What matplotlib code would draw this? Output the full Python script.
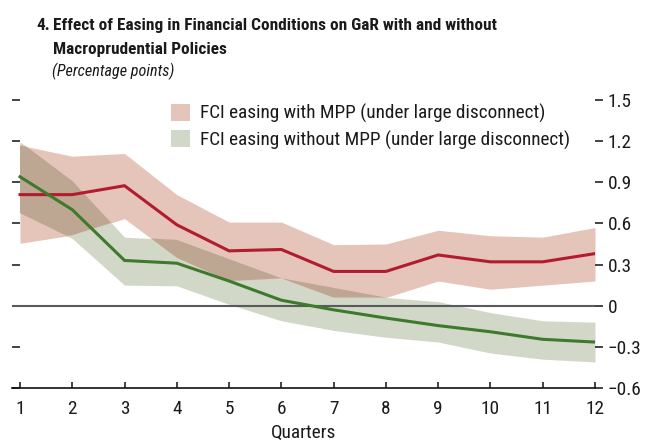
import numpy as np
import matplotlib
matplotlib.use("Agg")
import matplotlib.pyplot as plt
from matplotlib.patches import Patch
from matplotlib import font_manager as fm

quarters = list(range(1, 13))

# FCI easing with MPP (median and band)
with_mpp = [0.81, 0.81, 0.875, 0.59, 0.40, 0.41, 0.25, 0.25, 0.37, 0.32, 0.32, 0.38]
with_mpp_hi = [1.17, 1.09, 1.11, 0.81, 0.61, 0.61, 0.445, 0.45, 0.55, 0.51, 0.50, 0.57]
with_mpp_lo = [0.455, 0.515, 0.635, 0.35, 0.18, 0.20, 0.06, 0.06, 0.18, 0.12, 0.15, 0.18]

# FCI easing without MPP
without_mpp = [0.94, 0.70, 0.33, 0.31, 0.18, 0.04, -0.03, -0.09, -0.145, -0.19, -0.245, -0.265]
without_mpp_hi = [1.195, 0.91, 0.50, 0.48, 0.34, 0.20, 0.13, 0.06, 0.03, -0.05, -0.11, -0.12]
without_mpp_lo = [0.675, 0.49, 0.15, 0.145, 0.01, -0.11, -0.18, -0.23, -0.265, -0.345, -0.39, -0.41]

yticks = [-0.6, -0.3, 0, 0.3, 0.6, 0.9, 1.2, 1.5]
ytick_labels = ["\u22120.6", "\u22120.3", "0", "0.3", "0.6", "0.9", "1.2", "1.5"]
labels = ["FCI easing with MPP (under large disconnect)",
          "FCI easing without MPP (under large disconnect)"]
title1 = "Effect of Easing in Financial Conditions on GaR with and without"
title2 = "Macroprudential Policies"
subtitle = "(Percentage points)"

red_fill = "#E5C4BA"
green_fill = "#D2D8C8"
overlap_fill = "#BDA692"
red_line = "#B31B2E"
green_line = "#3D7A2B"
text_col = "#1a1a1a"


def pick_font(weight, style):
    # prefer a condensed / narrow sans face, otherwise Roboto, otherwise DejaVu
    def narrow(f):
        return ("Narrow" in f.name or "Condensed" in f.name
                or "condensed" in str(f.stretch))
    def ok(f):
        w = f.weight if isinstance(f.weight, int) else fm.weight_dict.get(f.weight, 400)
        bold = w >= 600
        ital = f.style in ("italic", "oblique")
        return bold == (weight == "bold") and ital == (style == "italic")
    fonts = fm.fontManager.ttflist
    for fam in ["Liberation Sans Narrow", "Roboto Condensed", "Open Sans Condensed",
                "Noto Sans", "DejaVu Sans", "Roboto", "Open Sans"]:
        for f in fonts:
            if f.name.startswith(fam) and narrow(f) and ok(f):
                return fm.FontProperties(fname=f.fname)
    for fam in ["Roboto", "Liberation Sans", "DejaVu Sans"]:
        for f in fonts:
            if f.name == fam and ok(f) and "condensed" not in str(f.stretch):
                return fm.FontProperties(fname=f.fname)
    return fm.FontProperties(family="DejaVu Sans", weight=weight, style=style)


fp_reg = pick_font("normal", "normal")
fp_bold = pick_font("bold", "normal")
fp_ital = pick_font("normal", "italic")

W, H = 653, 445
fig = plt.figure(figsize=(W / 100, H / 100), dpi=100)
renderer = fig.canvas.get_renderer()


def fit_size(text, fp, target_px):
    t = fig.text(0, 0, text, fontproperties=fp, fontsize=13)
    w = t.get_window_extent(renderer).width
    t.remove()
    return 13 * target_px / w


size_reg = min(fit_size(labels[0], fp_reg, 345), 14)
size_bold = min(fit_size(title1, fp_bold, 440), 14.5)
size_ital = min(fit_size(subtitle, fp_ital, 122), 14)

ax = fig.add_axes([12 / W, 1 - 388 / H, (595 - 12) / W, (388 - 100) / H])
ax.set_xlim(1 - 8 / 52.27, 12)
ax.set_ylim(-0.6, 1.5)

ax.fill_between(quarters, without_mpp_lo, without_mpp_hi, color=green_fill, lw=0, zorder=1)
ax.fill_between(quarters, with_mpp_lo, with_mpp_hi, color=red_fill, lw=0, zorder=1)

# overlapping part of the two bands (multiply-like colour)
xs = np.linspace(1, 12, 1101)
lo = np.maximum(np.interp(xs, quarters, with_mpp_lo), np.interp(xs, quarters, without_mpp_lo))
hi = np.minimum(np.interp(xs, quarters, with_mpp_hi), np.interp(xs, quarters, without_mpp_hi))
ax.fill_between(xs, lo, hi, where=hi > lo, color=overlap_fill, lw=0, zorder=2)

ax.axhline(0, color="#5a5a5a", lw=1.5, zorder=3)
ax.plot(quarters, with_mpp, color=red_line, lw=2.2, zorder=4, solid_joinstyle='miter')
ax.plot(quarters, without_mpp, color=green_line, lw=2.2, zorder=4, solid_joinstyle='miter')

for s in ["top", "left", "right"]:
    ax.spines[s].set_visible(False)
ax.spines["bottom"].set_linewidth(1.2)
ax.spines["bottom"].set_color("#111111")

ax.set_xticks(quarters)
ax.set_xticklabels([str(q) for q in quarters], fontproperties=fp_reg, fontsize=size_reg)
ax.tick_params(axis="x", direction="in", length=4.5, width=1.1, colors="#111111",
               pad=9, labelcolor=text_col)
ax.set_yticks(yticks)
ax.tick_params(axis="y", direction="in", length=6, width=1.1, colors="#111111",
               labelleft=False)
ax.set_xlabel("Quarters", fontproperties=fp_reg, fontsize=size_reg, color=text_col,
              labelpad=4)

ax2 = ax.twinx()
ax2.set_ylim(-0.6, 1.5)
for s in ax2.spines.values():
    s.set_visible(False)
ax2.set_yticks(yticks)
ax2.set_yticklabels(ytick_labels, fontproperties=fp_reg, fontsize=size_reg)
ax2.tick_params(axis="y", direction="out", length=6, width=1.1, colors="#111111",
                pad=3, labelcolor=text_col)

handles = [Patch(facecolor=red_fill, edgecolor="none"),
           Patch(facecolor=green_fill, edgecolor="none")]
leg_fp = fp_reg.copy()
leg_fp.set_size(size_reg)
fig.legend(handles, labels, loc="upper left", bbox_to_anchor=(171 / W, 1 - 104 / H),
           frameon=False, prop=leg_fp, handlelength=1.0, handleheight=1.0,
           handletextpad=0.5, labelspacing=0.35, borderpad=0, borderaxespad=0,
           labelcolor=text_col)

fig.text(36 / W, 1 - 30 / H, "4.", fontproperties=fp_bold, fontsize=size_bold,
         color=text_col, va="baseline", ha="left")
fig.text(53 / W, 1 - 30 / H, title1, fontproperties=fp_bold, fontsize=size_bold,
         color=text_col, va="baseline", ha="left")
fig.text(53 / W, 1 - 54 / H, title2, fontproperties=fp_bold, fontsize=size_bold,
         color=text_col, va="baseline", ha="left")
fig.text(52 / W, 1 - 76 / H, subtitle, fontproperties=fp_ital, fontsize=size_ital,
         color=text_col, va="baseline", ha="left")

fig.savefig("out.png", dpi=100)
